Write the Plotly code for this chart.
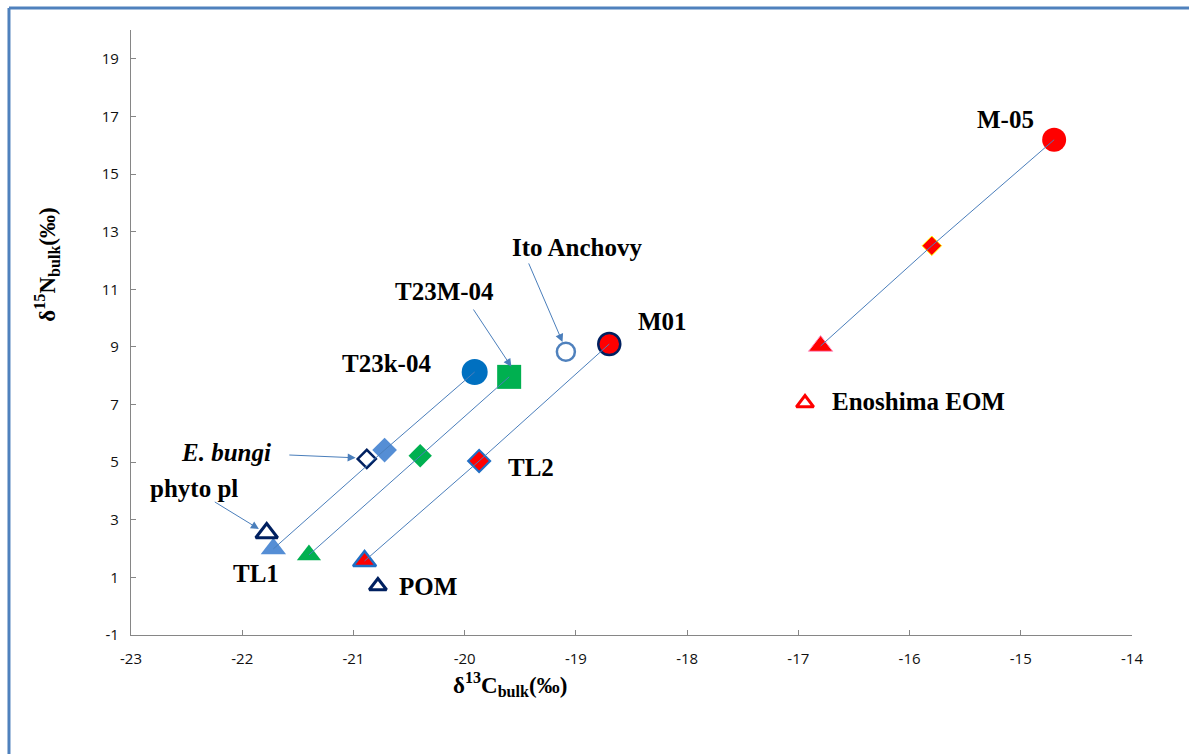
import plotly.graph_objects as go

# ---- data ----
# three trophic levels (TL1, TL2, TL3) for each food chain
blue_x = [-21.72, -20.72, -19.91]
blue_y = [1.99, 5.42, 8.13]
green_x = [-21.40, -20.40, -19.60]
green_y = [1.78, 5.22, 7.96]
m01_x = [-20.90, -19.87, -18.70]
m01_y = [1.57, 5.04, 9.10]
m05_x = [-16.80, -15.80, -14.70]
m05_y = [9.03, 12.51, 16.19]

# open reference markers
ref_names = ["phyto pl", "E. bungi", "Ito Anchovy", "POM", "Enoshima EOM"]
ref_x = [-21.78, -20.88, -19.09, -20.78, -16.94]
ref_y = [2.54, 5.11, 8.83, 0.70, 7.05]

# text labels
label_text = ["<b>M-05</b>", "<b>M01</b>", "<b>Ito Anchovy</b>", "<b>T23M-04</b>",
              "<b>T23k-04</b>", "<b><i>E. bungi</i></b>", "<b>phyto pl</b>",
              "<b>TL1</b>", "<b>TL2</b>", "<b>POM</b>", "<b>Enoshima EOM</b>"]
label_x = [-15.14, -18.22, -18.99, -20.18, -20.70, -22.15, -22.43, -21.88, -19.40, -20.33, -15.92]
label_y = [16.88, 9.87, 12.44, 10.91, 8.41, 5.32, 4.07, 1.12, 4.80, 0.67, 7.09]

# arrows: tail -> tip
arrow_tail_x = [-19.43, -19.93, -21.59, -22.26]
arrow_tail_y = [11.95, 10.35, 5.25, 3.65]
arrow_tip_x = [-19.12, -19.58, -20.98, -21.85]
arrow_tip_y = [9.17, 8.31, 5.15, 2.68]

x_ticks = [-23, -22, -21, -20, -19, -18, -17, -16, -15, -14]
y_ticks = [-1, 1, 3, 5, 7, 9, 11, 13, 15, 17, 19]

LINE = "#4a7ebb"
NAVY = "#002060"

fig = go.Figure()

def markers(x, y, symbols, colors, sizes, lcolors, lwidths):
    fig.add_trace(go.Scatter(
        x=x, y=y, mode="markers", showlegend=False, hoverinfo="skip",
        marker=dict(symbol=symbols, color=colors, size=sizes, opacity=1,
                    line=dict(color=lcolors, width=lwidths))))

markers(blue_x, blue_y, ["triangle-up", "diamond", "circle"],
        ["#558ed5", "#558ed5", "#0070c0"], [22, 19, 26],
        ["#558ed5", "#558ed5", "#0070c0"], [0, 0, 0])
markers(green_x, green_y, ["triangle-up", "diamond", "square"],
        ["#00b050"] * 3, [21, 18, 24], ["#00b050"] * 3, [0, 0, 0])
markers(m01_x, m01_y, ["triangle-up", "diamond", "circle"],
        ["#ff0000"] * 3, [20, 17, 22], ["#1f6fc5", "#1f6fc5", NAVY], [2.5, 2, 2.5])
markers(m05_x, m05_y, ["triangle-up", "diamond", "circle"],
        ["#ff0000"] * 3, [21, 15, 24], ["#ff99cc", "#ffff00", "#ff0000"], [1, 1, 0])
markers(ref_x, ref_y, ["triangle-up", "diamond", "circle", "triangle-up", "triangle-up"],
        ["white"] * 5, [19, 14, 18, 15, 15],
        [NAVY, NAVY, "#4f81bd", NAVY, "#ff0000"], [3, 2.5, 2.5, 3, 3])

# connecting lines drawn over the markers
for xs, ys in [(blue_x, blue_y), (green_x, green_y), (m01_x, m01_y), (m05_x, m05_y)]:
    fig.add_trace(go.Scatter(x=xs, y=ys, mode="lines", showlegend=False,
                             hoverinfo="skip", line=dict(color=LINE, width=1)))

for t, x, y in zip(label_text, label_x, label_y):
    fig.add_annotation(x=x, y=y, text=t, showarrow=False, xanchor="center", yanchor="middle",
                       font=dict(family="Liberation Serif", size=25, color="black"))

for tx, ty, hx, hy in zip(arrow_tail_x, arrow_tail_y, arrow_tip_x, arrow_tip_y):
    fig.add_annotation(x=hx, y=hy, ax=tx, ay=ty, axref="x", ayref="y", text="",
                       showarrow=True, arrowhead=2, arrowsize=1.6, arrowwidth=1,
                       arrowcolor=LINE, standoff=0, startstandoff=0)

# axis titles
fig.add_annotation(xref="paper", yref="paper", x=0.379, y=-0.082,
                   xanchor="center", yanchor="middle",
                   text="<b>δ<sup>13</sup>C<sub>bulk</sub>(‰)</b>", showarrow=False,
                   font=dict(family="Liberation Serif", size=23, color="black"))
fig.add_annotation(xref="paper", yref="paper", x=-0.084, y=0.612, textangle=-90,
                   xanchor="center", yanchor="middle",
                   text="<b>δ<sup>15</sup>N<sub>bulk</sub>(‰)</b>", showarrow=False,
                   font=dict(family="Liberation Serif", size=23, color="black"))

# outer frame (left and top edges visible)
fig.add_shape(type="line", xref="paper", yref="paper", x0=-0.1219, x1=-0.1219,
              y0=1.0364, y1=-0.3, line=dict(color="#4f81bd", width=3))
fig.add_shape(type="line", xref="paper", yref="paper", x0=-0.1219, x1=1.2,
              y0=1.0364, y1=1.0364, line=dict(color="#4f81bd", width=3))

axis_common = dict(showgrid=False, zeroline=False, showline=True, linecolor="#868686",
                   linewidth=1.3, ticks="inside", ticklen=5, tickcolor="#868686",
                   tickfont=dict(family="Open Sans", size=15, color="#111111"))
fig.update_xaxes(range=[-23, -14], tickvals=x_ticks, ticktext=[str(v) for v in x_ticks],
                 ticklabelstandoff=10, **axis_common)
fig.update_yaxes(range=[-1, 20], tickvals=y_ticks, ticktext=[str(v) for v in y_ticks],
                 ticklabelstandoff=8, **axis_common)

fig.update_layout(width=1189, height=754, margin=dict(l=131, r=57, t=30, b=119),
                  plot_bgcolor="white", paper_bgcolor="white", showlegend=False)

fig.write_html("out.html")
